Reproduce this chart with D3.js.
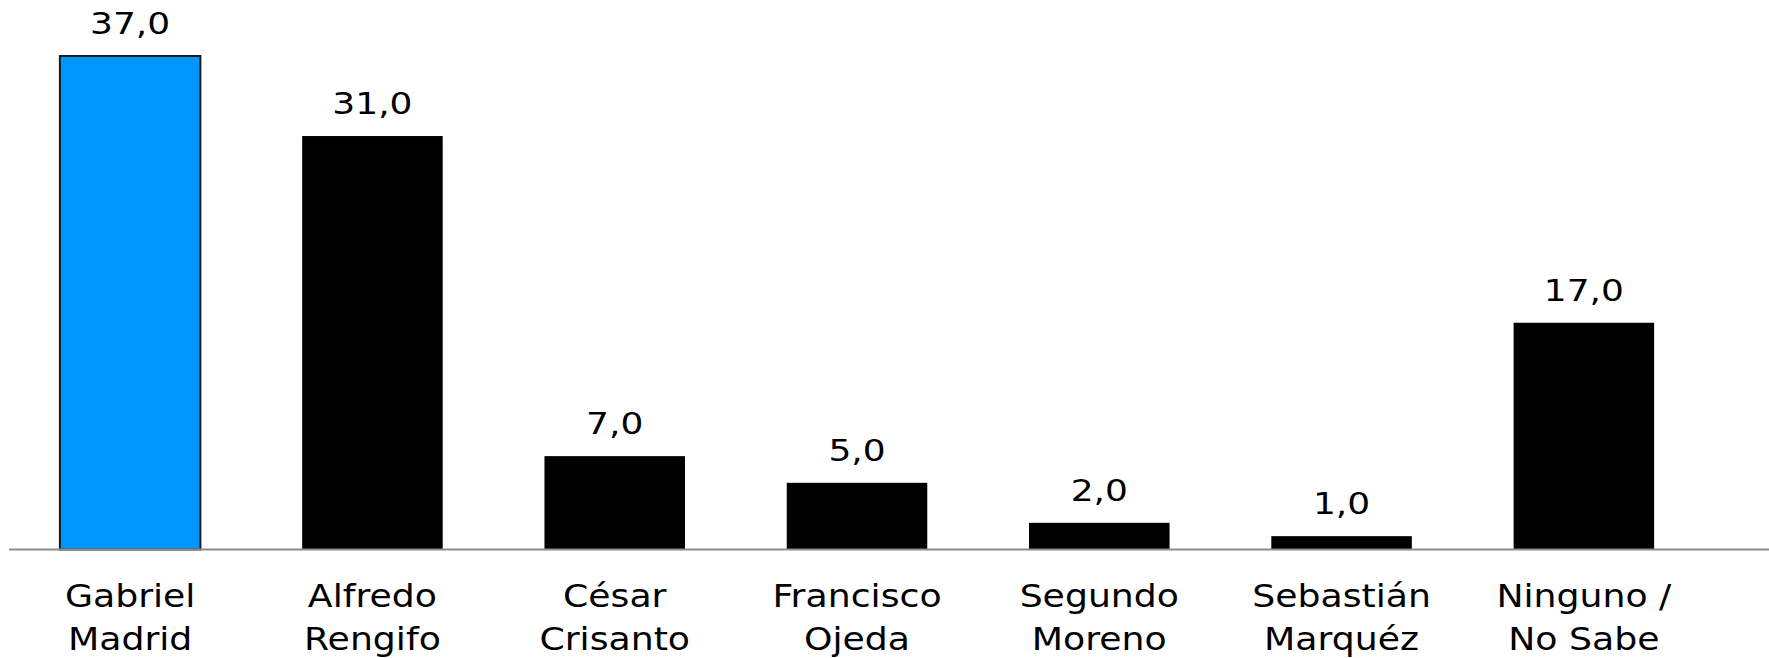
<!DOCTYPE html>
<html>
<head>
<meta charset="utf-8">
<script src="https://cdn.jsdelivr.net/npm/d3@7/dist/d3.min.js"></script>
<style>
  html, body { margin: 0; padding: 0; background: #ffffff; }
  svg { display: block; }
</style>
</head>
<body>
<svg id="chart" width="1769" height="658"></svg>
<script>
const categories = ["Gabriel Madrid", "Alfredo Rengifo", "César Crisanto", "Francisco Ojeda", "Segundo Moreno", "Sebastián Marquéz", "Ninguno / No Sabe"];
const categoryLines = [["Gabriel", "Madrid"], ["Alfredo", "Rengifo"], ["César", "Crisanto"], ["Francisco", "Ojeda"], ["Segundo", "Moreno"], ["Sebastián", "Marquéz"], ["Ninguno /", "No Sabe"]];
const values = [37, 31, 7, 5, 2, 1, 17];
const valueLabels = ["37,0", "31,0", "7,0", "5,0", "2,0", "1,0", "17,0"];
const highlight = ["Gabriel Madrid"];

const W = 1769, H = 658;
const svg = d3.select("#chart");
const font = "'DejaVu Sans', Verdana, sans-serif";
const sxVal = 1.2;
const sxCat = 1.15;

const x = d3.scaleBand().domain(categories).range([9, 1705]).paddingInner(0.42).paddingOuter(0.21);
const y = d3.scaleLinear().domain([0, 37]).range([549.5, 56]);

const data = categories.map((c, i) => ({ c, v: values[i], lab: valueLabels[i], lines: categoryLines[i] }));

svg.selectAll("rect.bar").data(data).join("rect")
  .attr("class", "bar")
  .attr("x", d => x(d.c))
  .attr("y", d => y(d.v))
  .attr("width", x.bandwidth())
  .attr("height", d => y(0) - y(d.v))
  .attr("fill", d => highlight.includes(d.c) ? "#0096FF" : "#000000")
  .attr("stroke", d => highlight.includes(d.c) ? "#1a1a1a" : "none")
  .attr("stroke-width", 2);

svg.append("line")
  .attr("x1", 9).attr("x2", W)
  .attr("y1", y(0)).attr("y2", y(0))
  .attr("stroke", "#8c8c8c").attr("stroke-width", 2);

svg.selectAll("text.val").data(data).join("text")
  .attr("class", "val")
  .attr("transform", d => `translate(${x(d.c) + x.bandwidth() / 2},${y(d.v) - 22}) scale(${sxVal},1)`)
  .attr("text-anchor", "middle")
  .attr("font-family", font)
  .attr("font-size", 30)
  .attr("fill", "#000")
  .text(d => d.lab);

const cat = svg.selectAll("g.cat").data(data).join("g").attr("class", "cat");
cat.each(function(d) {
  const g = d3.select(this);
  d.lines.forEach((ln, j) => {
    g.append("text")
      .attr("transform", `translate(${x(d.c) + x.bandwidth() / 2},${607 + j * 43}) scale(${sxCat},1)`)
      .attr("text-anchor", "middle")
      .attr("font-family", font)
      .attr("font-size", 31.5)
      .attr("fill", "#000")
      .text(ln);
  });
});
</script>
</body>
</html>
